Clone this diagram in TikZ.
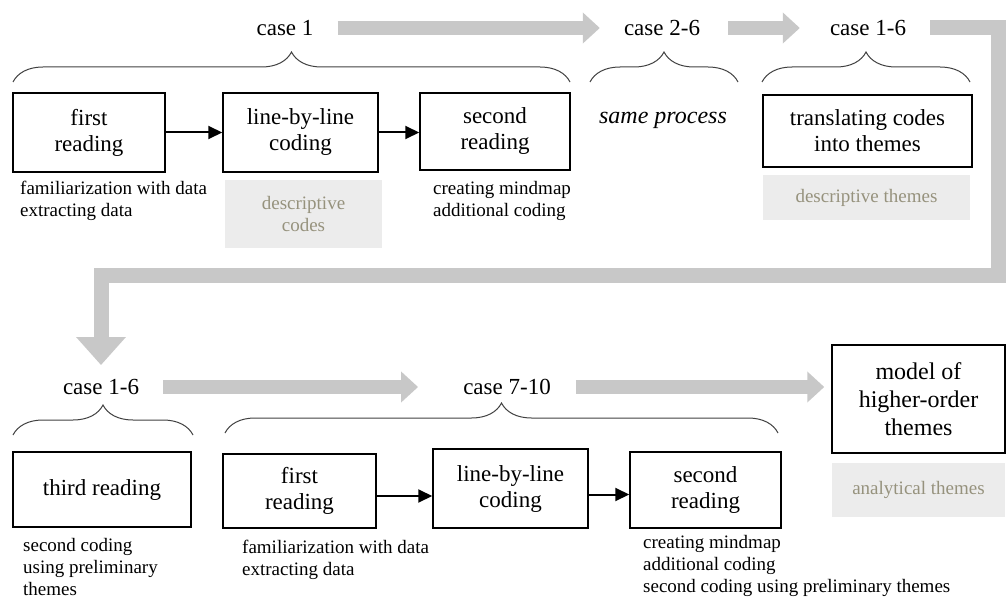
\documentclass[tikz,border=0pt]{standalone}
\usepackage{fontspec}
\setmainfont{Liberation Serif}
\usetikzlibrary{arrows.meta, decorations.pathreplacing, calc}
\definecolor{flowgray}{RGB}{200,200,200}
\definecolor{shadegray}{RGB}{236,236,236}
\definecolor{shadetext}{RGB}{150,146,125}

\begin{document}
\begin{tikzpicture}[x=1pt, y=-1pt,
  box/.style={draw, line width=1.5pt, align=center, inner sep=0pt, font=\fontsize{23}{26}\selectfont},
  shade/.style={fill=shadegray, text=shadetext, align=center, font=\fontsize{19}{22}\selectfont},
  sub/.style={anchor=west, align=left, inner sep=0pt, font=\fontsize{19}{22}\selectfont},
  case/.style={inner sep=0pt, font=\fontsize{23}{26}\selectfont},
  flow/.style={draw=flowgray, line width=14pt, -{Triangle[length=17pt,width=30pt]}},
  link/.style={line width=2pt, -{Triangle[length=14pt,width=13pt]}},
  grp/.style={decorate, decoration={brace, amplitude=30pt}, line width=1pt, draw=black!75}]
  \useasboundingbox (0,0) rectangle (1006,599);

  % first pass: case 1
  \node[case] (c1) at (285,28) {case 1};
  \node[case] (c26) at (662,28) {case 2-6};
  \node[case] (c16) at (868,28) {case 1-6};
  \draw[grp] (13,82) -- (570,82);
  \draw[grp] (590,82) -- (738,82);
  \draw[grp] (762,82) -- (970,82);

  \node[box, minimum width=152pt, minimum height=79pt] (fr1) at (89,132.5) {first\\reading};
  \node[box, minimum width=155pt, minimum height=79pt] (lbl1) at (300.5,132.5) {line-by-line\\coding};
  \node[box, minimum width=150pt, minimum height=77pt] (sr1) at (495,131.5) {second\\reading};
  \node[box, minimum width=209pt, minimum height=72pt] (tr) at (867.5,131) {translating codes\\into themes};
  \node[font=\fontsize{24}{27}\selectfont\itshape] (same) at (663,120) {same process};
  \draw[link] (fr1.east) -- (fr1.east -| lbl1.west);
  \draw[link] (lbl1.east) -- (lbl1.east -| sr1.west);

  \node[shade, minimum width=157pt, minimum height=68pt] (dc) at (303.5,214) {descriptive\\codes};
  \node[shade, minimum width=207pt, minimum height=45pt] (dt) at (866.5,197.5) {descriptive themes};
  \node[sub] (fr1note) at (20,201) {familiarization with data\\extracting data};
  \node[sub] (sr1note) at (433,201) {creating mindmap\\additional coding};

  % second pass
  \node[case] (c16b) at (101,387) {case 1-6};
  \node[case] (c710) at (507,387) {case 7-10};
  \draw[grp] (13,435) -- (193,435);
  \draw[grp] (225,433) -- (778,433);

  \node[box, minimum width=178pt, minimum height=75pt] (thr) at (102,489.5) {third reading};
  \node[box, minimum width=153pt, minimum height=74pt] (fr2) at (299.5,491) {first\\reading};
  \node[box, minimum width=155pt, minimum height=79pt] (lbl2) at (510.5,488.5) {line-by-line\\coding};
  \node[box, minimum width=151pt, minimum height=76pt] (sr2) at (705.5,490) {second\\reading};
  \node[box, minimum width=173pt, minimum height=108pt, font=\fontsize{24}{28}\selectfont] (model) at (918.5,399) {model of\\higher-order\\themes};
  \draw[link] ([yshift=-5pt]fr2.east) -- ([yshift=-5pt]fr2.east -| lbl2.west);
  \draw[link] ([yshift=-6pt]lbl2.east) -- ([yshift=-6pt]lbl2.east -| sr2.west);

  \node[shade, minimum width=173pt, minimum height=54pt] (at) at (918.5,490) {analytical themes};
  \node[sub] (thrnote) at (23,566.5) {second coding\\using preliminary\\themes};
  \node[sub] (fr2note) at (242,560) {familiarization with data\\extracting data};
  \node[sub] (sr2note) at (643,566) {creating mindmap\\additional coding\\second coding using preliminary themes};

  % gray flow
  \draw[flow] ([xshift=24pt]c1.east) -- ([xshift=-24pt]c26.west);
  \draw[flow] ([xshift=28pt]c26.east) -- ([xshift=-30pt]c16.west);
  \draw[flow, line width=15pt, -{Triangle[length=28pt,width=48pt]}]
    ([xshift=24pt]c16.east) -| (998,275) -| ([yshift=14pt]c16b.north);
  \draw[flow] ([xshift=24pt]c16b.east) -- ([xshift=-45pt]c710.west);
  \draw[flow] ([xshift=25pt]c710.east) -- ([xshift=-7pt]model.west |- c710.east);
\end{tikzpicture}
\end{document}
